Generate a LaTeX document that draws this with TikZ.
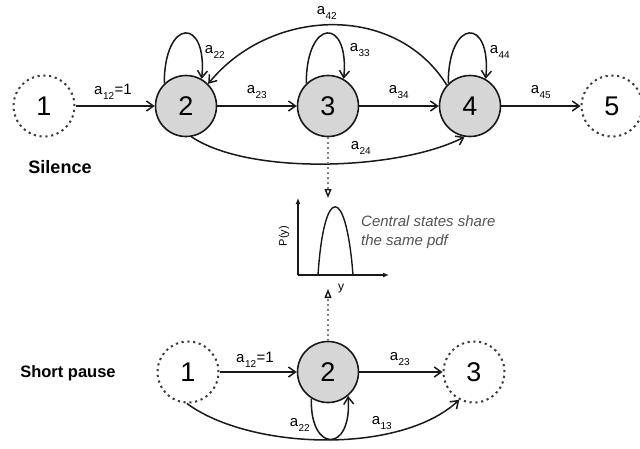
\documentclass[tikz,border=0pt]{standalone}
\usepackage{fontspec}
\setmainfont{Liberation Sans}
\usetikzlibrary{arrows.meta}
\newcommand\subsc[1]{\kern0.5pt\raisebox{-0.55ex}{\fontsize{10}{10}\selectfont #1}\kern0.5pt}
\definecolor{nodefill}{RGB}{214,214,214}
\definecolor{ink}{RGB}{25,25,25}
\begin{document}
\begin{tikzpicture}[x=1pt,y=-1pt,
  st/.style={circle,draw=ink,line width=1.6pt,minimum size=61pt,inner sep=0pt,font=\fontsize{27}{27}\selectfont},
  hid/.style={st,draw=ink!85,dash pattern=on 2.2pt off 3.6pt,line width=2pt},
  real/.style={st,fill=nodefill},
  tr/.style={draw=ink,line width=1.5pt,-{Straight Barb[length=7pt,width=10pt,line width=1.5pt]}},
  lab/.style={font=\fontsize{15}{15}\selectfont,inner sep=0pt},
  title/.style={font=\bfseries\fontsize{16.5}{16.5}\selectfont,inner sep=0pt},
  share/.style={draw=ink!55,line width=1.6pt,dash pattern=on 2pt off 3pt,-{Triangle[open,length=9pt,width=7pt,line width=1.4pt,color=ink]}},
  axis/.style={draw=ink,line width=1.3pt,-{Latex[length=6pt,width=5pt]}}
]
\useasboundingbox (0,0) rectangle (640,448);
% top row
\node[hid]  (t1) at (44,106) {1};
\node[real] (t2) at (186,106) {2};
\node[real] (t3) at (328,106) {3};
\node[real] (t4) at (470,106) {4};
\node[hid]  (t5) at (612,106) {5};
\node[title,font=\bfseries\fontsize{18}{18}\selectfont] (sil) at (60,167) {Silence};

\draw[tr] (t1) -- (t2);
\draw[tr] (t2) -- (t3);
\draw[tr] (t3) -- (t4);
\draw[tr] (t4) -- (t5);
\draw[tr] (t2.134) .. controls +(0,-66) and +(6,-62) .. (t2.60);
\draw[tr] (t3.134) .. controls +(0,-66) and +(6,-62) .. (t3.60);
\draw[tr] (t4.134) .. controls +(0,-66) and +(6,-62) .. (t4.60);
\draw[tr] (t4.138) .. controls (395,2) and (270,8) .. (t2.45);
\draw[tr] (t2.-80) .. controls (250,176) and (400,170) .. (t4.-100);

\node[lab] (l12) at (113,92) {a\subsc{12}=1};
\node[lab] (l22) at (215,52) {a\subsc{22}};
\node[lab] (l23) at (257,92) {a\subsc{23}};
\node[lab] (l33) at (360,50) {a\subsc{33}};
\node[lab] (l34) at (399,92) {a\subsc{34}};
\node[lab] (l44) at (500,52) {a\subsc{44}};
\node[lab] (l45) at (541,92) {a\subsc{45}};
\node[lab] (l24) at (361,148) {a\subsc{24}};
\node[lab] (l42) at (327,13) {a\subsc{42}};

% pdf plot
\coordinate (o) at (298,275);
\coordinate (ytop) at (298,198);
\coordinate (xend) at (389,275);
\draw[axis] (o) -- (ytop);
\draw[axis] (o) -- (xend);
\draw[draw=ink,line width=1.4pt] (318,275) .. controls (324,184) and (346,184) .. (353,275);
\node[font=\fontsize{11}{11}\selectfont,rotate=90,inner sep=0pt] (py) at (284,236) {P(y)};
\node[font=\fontsize{12}{12}\selectfont,inner sep=0pt] (yl) at (341,289) {y};
\node[font=\itshape\fontsize{15}{19}\selectfont,text=ink!75,align=left,anchor=north west,inner sep=0pt] (txt) at (361,215) {Central states share\\the same pdf};

\coordinate (tipdown) at (328,198);
\coordinate (tipup) at (328,289);

% bottom row
\node[hid]  (b1) at (188,372) {1};
\node[real] (b2) at (328,372) {2};
\node[hid]  (b3) at (474,372) {3};
\node[title] (sp) at (68,373) {Short pause};

\draw[share] (t3) -- (tipdown);
\draw[share] (b2) -- (tipup);

\draw[tr] (b1) -- (b2);
\draw[tr] (b2) -- (b3);
\draw[tr] (b2.238) .. controls +(-2,54) and +(4,58) .. (b2.-50);
\draw[tr] (b1.-92) .. controls (250,450) and (400,455) .. (b3.-118);

\node[lab] (m12) at (255,360) {a\subsc{12}=1};
\node[lab] (m23) at (400,359) {a\subsc{23}};
\node[lab] (m22) at (300,425) {a\subsc{22}};
\node[lab] (m13) at (382,423) {a\subsc{13}};
\end{tikzpicture}
\end{document}
